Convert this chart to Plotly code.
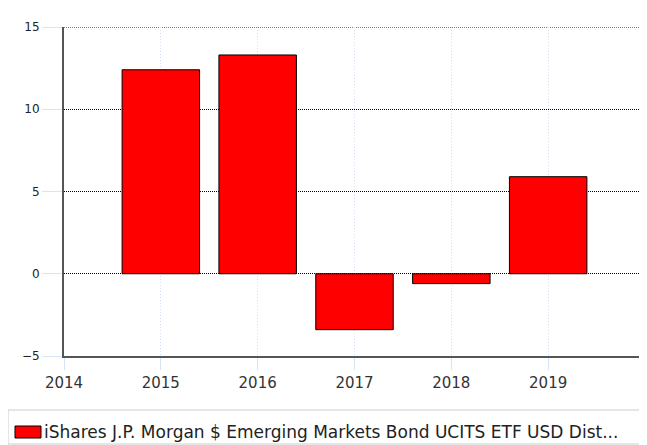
import plotly.graph_objects as go

years = [2015, 2016, 2017, 2018, 2019]
returns = [12.4, 13.3, -3.4, -0.6, 5.9]
series_name = "iShares J.P. Morgan $ Emerging Markets Bond UCITS ETF USD Dist..."
y_ticks = [-5, 0, 5, 10, 15]
x_ticks = [2014, 2015, 2016, 2017, 2018, 2019]

fig = go.Figure()
fig.add_trace(go.Bar(
    x=years, y=returns, width=0.8, name=series_name,
    marker=dict(color="#ff0000", line=dict(color="#000000", width=1)),
    showlegend=False,
))

# page has an 8px body margin, so figure is 639x437 and margins are compensated
fig.update_layout(
    width=639, height=437,
    margin=dict(l=56, r=2, t=19, b=89),
    paper_bgcolor="white", plot_bgcolor="white",
    font=dict(family="DejaVu Sans", color="#333333"),
    xaxis=dict(
        range=[2014, 2020], tickvals=x_ticks, ticktext=[str(v) for v in x_ticks],
        showgrid=True, gridcolor="#cfe0f5", griddash="1px,2px", gridwidth=1,
        ticks="outside", ticklen=12, tickcolor="#d6e4f5",
        showline=True, linecolor="#555555", linewidth=2,
        tickfont=dict(size=15, color="#333333"), zeroline=False,
    ),
    yaxis=dict(
        range=[-5, 15], tickvals=y_ticks,
        showgrid=True, gridcolor="#000000", griddash="1px,1px", gridwidth=1,
        ticks="outside", ticklen=20, tickcolor="#d6e4f5",
        showline=True, linecolor="#555555", linewidth=2,
        tickfont=dict(size=12, color="#222222"), zeroline=False,
    ),
)

# top gridline (at the range edge, which plotly does not draw)
fig.add_shape(type="line", xref="paper", yref="y", x0=0, x1=1,
              y0=y_ticks[-1], y1=y_ticks[-1],
              line=dict(color="#000000", width=1, dash="1px,1px"), layer="below")

# legend box (pixel positions in page coords converted to paper coords)
def px(x):
    return (x - 64) / 581

def py(y):
    return (356 - y) / 329

fig.add_shape(type="rect", xref="paper", yref="paper",
              x0=px(8), x1=px(640), y0=py(444), y1=py(410),
              line=dict(color="#cccccc", width=1), fillcolor="white")
fig.add_shape(type="rect", xref="paper", yref="paper",
              x0=px(15), x1=px(41), y0=py(438), y1=py(426),
              line=dict(color="#000000", width=1), fillcolor="#ff0000")
fig.add_annotation(xref="paper", yref="paper", x=px(42), y=py(432),
                   text=series_name, showarrow=False, xanchor="left", yanchor="middle",
                   font=dict(size=17, color="#222222", family="DejaVu Sans"))

fig.write_html("out.html")
